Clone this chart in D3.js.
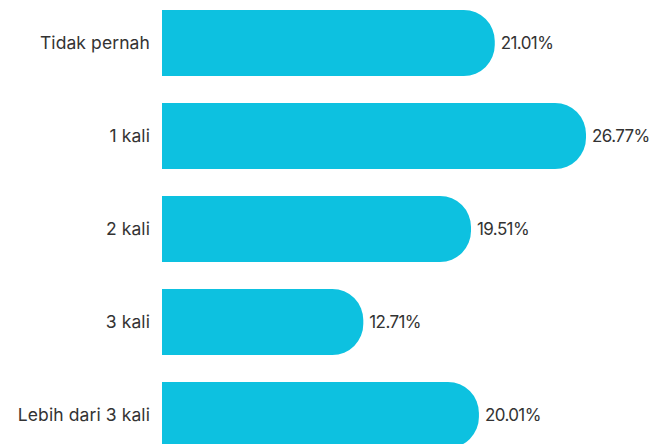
<!DOCTYPE html>
<html>
<head>
<meta charset="utf-8">
<script src="https://cdn.jsdelivr.net/npm/d3@7"></script>
<style>
  html, body { margin: 0; padding: 0; background: #fff; }
  svg { display: block; }
  text { font-family: Inter, "Noto Sans", sans-serif; fill: #333; }
</style>
</head>
<body>
<svg id="chart"></svg>
<script>
const categories = ["Tidak pernah", "1 kali", "2 kali", "3 kali", "Lebih dari 3 kali"];
const values = [21.01, 26.77, 19.51, 12.71, 20.01];

const width = 651;
const height = 444;
const barColor = "#0DC1E0";
const radius = 31;
const fontSize = 17.5;

const svg = d3.select("#chart")
  .attr("width", width)
  .attr("height", height);

const xScale = d3.scaleLinear()
  .domain([0, d3.max(values)])
  .range([162, 586]);

const yScale = d3.scaleBand()
  .domain(categories)
  .range([10, 448])
  .paddingInner(27 / 93)
  .paddingOuter(0);

const data = categories.map((c, i) => ({ cat: c, val: values[i] }));

// bar with square left end and rounded right end
function barPath(d) {
  const x0 = xScale(0);
  const x1 = xScale(d.val);
  const y0 = yScale(d.cat);
  const h = yScale.bandwidth();
  const r = Math.min(radius, h / 2, x1 - x0);
  return `M${x0},${y0}H${x1 - r}A${r},${r} 0 0 1 ${x1},${y0 + r}` +
    `V${y0 + h - r}A${r},${r} 0 0 1 ${x1 - r},${y0 + h}H${x0}Z`;
}

svg.selectAll("path.bar")
  .data(data)
  .enter()
  .append("path")
  .attr("class", "bar")
  .attr("d", barPath)
  .attr("fill", barColor);

// category labels
const yAxis = d3.axisLeft(yScale).tickSize(0).tickPadding(12);
svg.append("g")
  .attr("transform", `translate(${xScale(0)},0)`)
  .call(yAxis)
  .call((g) => g.select(".domain").remove())
  .call((g) => g.selectAll("text")
    .attr("font-size", fontSize)
    .style("font-family", "Inter, 'Noto Sans', sans-serif")
    .attr("letter-spacing", "0.1")
    .attr("fill", "#333"));

// value labels
svg.selectAll("text.value")
  .data(data)
  .enter()
  .append("text")
  .attr("class", "value")
  .attr("x", (d) => xScale(d.val) + 6)
  .attr("y", (d) => yScale(d.cat) + yScale.bandwidth() / 2)
  .attr("dy", "0.35em")
  .attr("font-size", 17)
  .attr("letter-spacing", "-0.6")
  .text((d) => d.val.toFixed(2) + "%");
</script>
</body>
</html>
